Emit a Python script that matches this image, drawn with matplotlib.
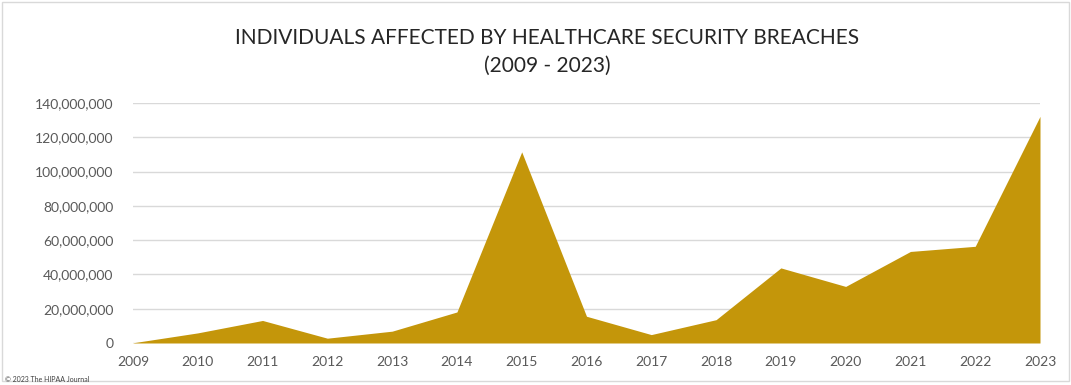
import matplotlib
matplotlib.use("Agg")
import matplotlib.pyplot as plt
from matplotlib.ticker import FuncFormatter, MultipleLocator

years = [2009, 2010, 2011, 2012, 2013, 2014, 2015, 2016, 2017, 2018, 2019, 2020, 2021, 2022, 2023]
individuals = [134_000, 5_900_000, 13_150_000, 2_800_000, 6_900_000, 18_100_000, 111_500_000,
               15_600_000, 4_900_000, 13_600_000, 43_800_000, 33_000_000, 53_400_000, 56_400_000, 132_200_000]
title_text = "INDIVIDUALS AFFECTED BY HEALTHCARE SECURITY BREACHES\n(2009 - 2023)"
credit_text = "© 2023 The HIPAA Journal"

plt.rcParams['font.family'] = ['Lato', 'DejaVu Sans']

fig = plt.figure(figsize=(10.71, 3.85), dpi=100)
fig.patch.set_facecolor('white')
ax = fig.add_axes([133/1071, 1 - 343/385, (1040 - 133)/1071, (343 - 103)/385])

ax.fill_between(years, individuals, 0, color='#C4960A', linewidth=0, zorder=2)
ax.set_xlim(years[0], years[-1])
ax.set_ylim(0, 140_000_000)
ax.yaxis.set_major_locator(MultipleLocator(20_000_000))
ax.yaxis.set_major_formatter(FuncFormatter(lambda v, p: f"{int(v):,}"))
ax.set_xticks(years)
ax.set_xticklabels([str(y) for y in years])
ax.grid(axis='y', color='#D9D9D9', linewidth=1, zorder=0)
for s in ax.spines.values():
    s.set_visible(False)
ax.tick_params(axis='both', length=0, labelsize=10, labelcolor='#595959')
ax.tick_params(axis='y', pad=14)
ax.tick_params(axis='x', pad=9)

fig.text(547/1071, 1 - 52/385, title_text, ha='center', va='center', fontsize=15,
         color='#262626', linespacing=1.5)
fig.text(5/1071, 1 - 379/385, credit_text, ha='left', va='center', fontsize=5, color='#404040')

# light frame around the chart
fig.add_artist(plt.Rectangle((0.002, 0.01), 0.996, 0.985, transform=fig.transFigure,
                             fill=False, edgecolor='#D9D9D9', linewidth=1))

fig.savefig("out.png", dpi=100)
